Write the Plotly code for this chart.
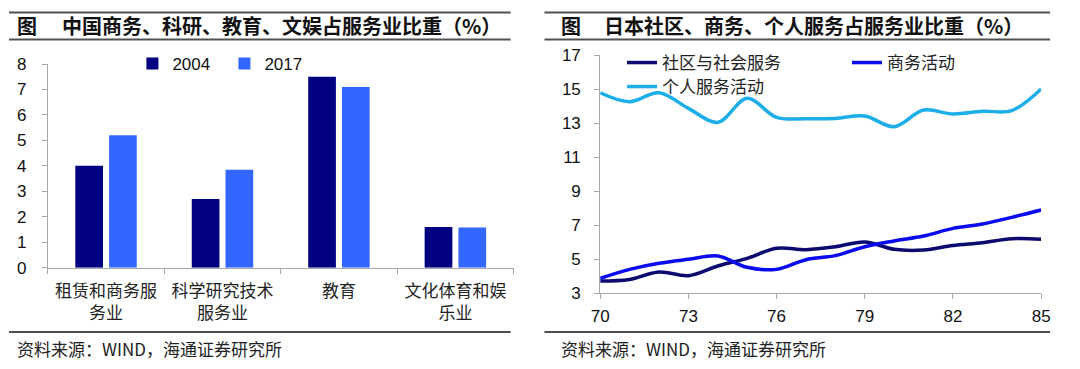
import plotly.graph_objects as go

# ---------------- data ----------------
categories = ["租赁和商务服<br>务业", "科学研究技术<br>服务业", "教育", "文化体育和娱<br>乐业"]
share_2004 = [4.0, 2.7, 7.5, 1.6]
share_2017 = [5.2, 3.85, 7.1, 1.58]

years = [70, 71, 72, 73, 74, 75, 76, 77, 78, 79, 80, 81, 82, 83, 84, 85]
community = [3.71, 3.8, 4.24, 4.02, 4.59, 5.04, 5.63, 5.55, 5.72, 6.0, 5.57, 5.53, 5.8, 5.96, 6.19, 6.16]
business = [3.86, 4.39, 4.75, 4.98, 5.18, 4.51, 4.39, 4.96, 5.2, 5.72, 6.06, 6.35, 6.8, 7.06, 7.45, 7.88]
personal = [14.78, 14.25, 14.78, 13.86, 13.04, 14.45, 13.33, 13.25, 13.27, 13.41, 12.78, 13.76, 13.53, 13.69, 13.73, 15.0]
year_ticks = [70, 73, 76, 79, 82, 85]

left_title = "中国商务、科研、教育、文娱占服务业比重（%）"
right_title = "日本社区、商务、个人服务占服务业比重（%）"
source_text = "资料来源：WIND，海通证券研究所"

# ---------------- geometry helpers ----------------
# The page body keeps its default 8px margin, so the figure is 16px smaller
# than the window and every reference pixel is shifted by 8.
OFF = 8
W, H = 1080 - 2 * OFF, 369 - 2 * OFF
def px(x):
    return (x - OFF) / W
def py(y):
    return (H - (y - OFF)) / H

NUM_FONT = "Liberation Sans, Arial, Noto Sans CJK SC"
CJK_FONT = "Noto Sans CJK SC, Liberation Sans"
AXIS_COL = "#a6a6a6"

fig = go.Figure()

fig.add_trace(go.Bar(x=categories, y=share_2004, name="2004", marker_color="#000080",
                     xaxis="x", yaxis="y", legend="legend"))
fig.add_trace(go.Bar(x=categories, y=share_2017, name="2017", marker_color="#3366FF",
                     xaxis="x", yaxis="y", legend="legend"))

fig.add_trace(go.Scatter(x=years, y=community, name="社区与社会服务", mode="lines",
                         line=dict(color="#0A0A70", width=3.5, shape="spline", smoothing=1.0),
                         xaxis="x2", yaxis="y2", legend="legend2"))
fig.add_trace(go.Scatter(x=years, y=business, name="商务活动", mode="lines",
                         line=dict(color="#0A0AF0", width=3.5, shape="spline", smoothing=1.0),
                         xaxis="x2", yaxis="y2", legend="legend2"))
fig.add_trace(go.Scatter(x=years, y=personal, name="个人服务活动", mode="lines",
                         line=dict(color="#1CAEE8", width=3.5, shape="spline", smoothing=1.0),
                         xaxis="x2", yaxis="y2", legend="legend3"))

axis_common = dict(showline=True, linecolor=AXIS_COL, linewidth=1, ticks="outside",
                   tickcolor=AXIS_COL, ticklen=5, showgrid=False, zeroline=False,
                   automargin=False,
                   tickfont=dict(family=NUM_FONT, size=17, color="#111111"))

fig.update_layout(
    template="none",
    width=W, height=H, autosize=False,
    margin=dict(l=0, r=0, t=0, b=0, pad=0),
    paper_bgcolor="white", plot_bgcolor="white",
    showlegend=True,
    bargap=0.42, bargroupgap=0.18,
    xaxis=dict(domain=[px(48), px(516)], anchor="y", tickson="boundaries",
               ticklabelstandoff=8,
               **{**axis_common, "tickfont": dict(family=CJK_FONT, size=17, color="#222222")}),
    yaxis=dict(domain=[py(267.7), py(64)], anchor="x", range=[0, 8], dtick=1,
               ticklabelstandoff=12, **axis_common),
    xaxis2=dict(domain=[px(603), px(1046)], anchor="y2", range=[70, 85],
                tickvals=year_ticks, ticktext=[str(v) for v in year_ticks],
                ticklabelstandoff=3, **axis_common),
    yaxis2=dict(domain=[py(293), py(55)], anchor="x2", range=[3, 17], tick0=3, dtick=2,
                ticklabelstandoff=10, **axis_common),
    legend=dict(orientation="h", x=px(133), y=py(64), xanchor="left", yanchor="middle",
                entrywidth=47, entrywidthmode="pixels", bgcolor="rgba(0,0,0,0)",
                borderwidth=0,
                font=dict(family=NUM_FONT, size=17, color="#111111")),
    legend2=dict(orientation="h", x=px(625), y=py(63), xanchor="left", yanchor="middle",
                 entrywidth=180, entrywidthmode="pixels", bgcolor="rgba(0,0,0,0)",
                 borderwidth=0,
                 font=dict(family=CJK_FONT, size=17, color="#222222")),
    legend3=dict(orientation="h", x=px(625), y=py(87), xanchor="left", yanchor="middle",
                 bgcolor="rgba(0,0,0,0)", borderwidth=0,
                 font=dict(family=CJK_FONT, size=17, color="#222222")),
)

# header / footer rules
rule = dict(type="line", xref="paper", yref="paper", layer="above",
            line=dict(color="#505050", width=2))
shapes = []
for (x0, x1) in [(9, 513), (547, 1055)]:
    for yv in [12.5, 39.5, 332]:
        shapes.append(dict(rule, x0=px(x0), x1=px(x1), y0=py(yv), y1=py(yv)))
fig.update_layout(shapes=shapes)

title_font = dict(family=CJK_FONT, size=20, color="#111111", weight="bold")
ann = []
ann.append(dict(text="图", x=px(15), y=py(25.5), xanchor="left", yanchor="middle", font=title_font))
ann.append(dict(text=left_title, x=px(60), y=py(25.5), xanchor="left", yanchor="middle", font=title_font))
ann.append(dict(text="图", x=px(562), y=py(25.5), xanchor="left", yanchor="middle", font=title_font))
ann.append(dict(text=right_title, x=px(605), y=py(25.5), xanchor="left", yanchor="middle", font=title_font))
src_font = dict(family=CJK_FONT, size=17, color="#222222")
ann.append(dict(text=source_text, x=px(15), y=py(348), xanchor="left", yanchor="middle", font=src_font))
ann.append(dict(text=source_text, x=px(562), y=py(348), xanchor="left", yanchor="middle", font=src_font))
for a in ann:
    a.update(xref="paper", yref="paper", showarrow=False)
fig.update_layout(annotations=ann)

fig.write_html("out.html", config={"displayModeBar": False})
